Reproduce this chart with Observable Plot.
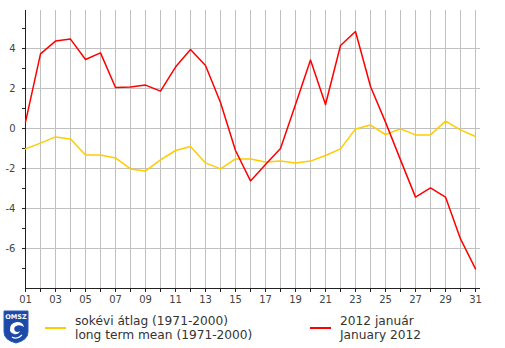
<!DOCTYPE html>
<html>
<head>
<meta charset="utf-8">
<script src="https://cdn.jsdelivr.net/npm/d3@7"></script>
<script src="https://cdn.jsdelivr.net/npm/@observablehq/plot@0.6"></script>
<style>
  html, body { margin: 0; padding: 0; background: #fff; }
  #wrap { position: relative; width: 505px; height: 348px; overflow: hidden; font-family: "DejaVu Sans", Verdana, sans-serif; }
  #chart { position: absolute; left: 0; top: 0; }
  .leg { position: absolute; font-size: 12.2px; line-height: 14px; color: #333; white-space: nowrap; }
  .sw { position: absolute; height: 2px; }
  #logo { position: absolute; left: 3px; top: 310px; }
</style>
</head>
<body>
<div id="wrap">
  <div id="chart"></div>
  <svg id="logo" width="26" height="34" viewBox="0 0 26 34">
    <path d="M1,1 H25 V22 Q25,30 13,33 Q1,30 1,22 Z" fill="#1d4aa6" stroke="#2d5cb8" stroke-width="1"/>
    <text x="13" y="8.5" text-anchor="middle" font-family="DejaVu Sans" font-weight="bold" font-size="6.5" fill="#fff">OMSZ</text>
    <path d="M7,21 Q6,13 14,12 Q20,12 21,17 Q17,14 13,16 Q10,18 12,21 Q14,23 17,21 Q15,25 11,24 Q8,23 7,21 Z" fill="#fff"/>
    <path d="M9,27 Q14,30 19,25" fill="none" stroke="#fff" stroke-width="1.2"/>
  </svg>
  <div class="sw" style="left:45px; top:327px; width:21px; background:#ffcc00;"></div>
  <div class="leg" style="left:75px; top:314px;">sokévi átlag (1971-2000)<br>long term mean (1971-2000)</div>
  <div class="sw" style="left:310px; top:327px; width:21px; background:#ff0000;"></div>
  <div class="leg" style="left:340px; top:314px;">2012 január<br>January 2012</div>
</div>
<script>
const days = d3.range(1, 32);
const meanVals = [-1.02, -0.73, -0.42, -0.52, -1.32, -1.32, -1.47, -2.02, -2.12, -1.57,
  -1.1, -0.9, -1.72, -2.02, -1.52, -1.52, -1.68, -1.63, -1.72, -1.63,
  -1.35, -1.02, -0.02, 0.17, -0.3, -0.02, -0.32, -0.32, 0.37, -0.07, -0.4];
const janVals = [0.32, 3.73, 4.37, 4.47, 3.45, 3.78, 2.05, 2.07, 2.17, 1.87,
  3.07, 3.95, 3.15, 1.3, -1.1, -2.62, -1.8, -1.0, 1.2, 3.43,
  1.2, 4.15, 4.85, 2.1, 0.32, -1.57, -3.43, -2.97, -3.43, -5.52, -7.02];
const yTicks = d3.range(-7, 6);
const yGrid = [-6, -4, -2, 0, 2, 4];

const meanData = days.map((d, i) => ({day: d, value: meanVals[i]}));
const janData = days.map((d, i) => ({day: d, value: janVals[i]}));

const chart = Plot.plot({
  width: 505,
  height: 305,
  marginLeft: 25,
  marginRight: 25,
  marginTop: 10,
  marginBottom: 17,
  style: {fontFamily: "DejaVu Sans, Verdana, sans-serif", fontSize: "10px", color: "#444", background: "white"},
  x: {domain: [1, 31 + 1/3], axis: null, label: null},
  y: {domain: [-8, 5.9], axis: null, label: null},
  marks: [
    Plot.gridX(days, {stroke: "#c0c0c0", strokeOpacity: 1}),
    Plot.gridY(yGrid, {stroke: "#c0c0c0", strokeOpacity: 1}),
    Plot.axisX({ticks: days, tickSize: 4, tickPadding: 3, stroke: "#222", label: null,
      tickFormat: d => d % 2 ? String(d).padStart(2, "0") : ""}),
    Plot.axisY({ticks: yTicks, tickSize: 3, tickPadding: 7, stroke: "#222", label: null,
      tickFormat: d => d % 2 === 0 ? String(d) : ""}),
    Plot.ruleX([1], {stroke: "#222"}),
    Plot.ruleY([-8], {stroke: "#222"}),
    Plot.line(meanData, {x: "day", y: "value", stroke: "#ffcc00", strokeWidth: 1.5}),
    Plot.line(janData, {x: "day", y: "value", stroke: "#ff0000", strokeWidth: 1.5})
  ]
});
document.getElementById("chart").appendChild(chart);
</script>
</body>
</html>
